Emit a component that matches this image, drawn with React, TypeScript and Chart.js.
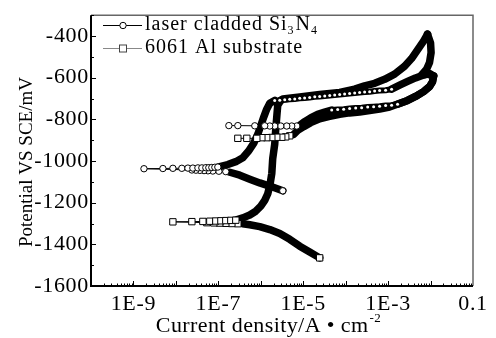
import { useEffect, useRef } from "react";
import { Chart, registerables } from "chart.js";

Chart.register(...registerables);

type Pt = [number, number]; // [current density A/cm2, potential mV]

// ---- laser cladded Si3N4 (circles) ----
const siCathodicBand: Pt[] = [[3.30e-6, -1143], [1.82e-6, -1124], [9.46e-7, -1105], [5.5e-7, -1087], [3.2e-7, -1068], [1.87e-7, -1054]];
const siNearEcorr: Pt[] = [[1.50e-7, -1051], [1.03e-7, -1049], [7.4e-8, -1048], [5.7e-8, -1047], [4.6e-8, -1046], [3.67e-8, -1045], [2.96e-8, -1044], [2.38e-8, -1043], [1.77e-9, -1037], [4.94e-9, -1036], [8.5e-9, -1035], [1.38e-8, -1035], [1.92e-8, -1034], [2.51e-8, -1034], [3.3e-8, -1033], [4.09e-8, -1033], [5.08e-8, -1032], [5.97e-8, -1032], [7.03e-8, -1031], [8.28e-8, -1030], [9.73e-8, -1029]];
const siAnodicBand: Pt[] = [[9.73e-8, -1029], [1.67e-7, -1017], [2.58e-7, -1003], [3.77e-7, -984], [5.22e-7, -951], [6.84e-7, -914], [8.49e-7, -872], [1.0e-6, -830], [1.18e-6, -788], [1.38e-6, -751], [1.63e-6, -723], [2.13e-6, -709]];
const siPittingRow: Pt[] = [[2.13e-6, -709], [2.80e-6, -708], [3.67e-6, -706], [4.81e-6, -704], [6.31e-6, -702], [8.28e-6, -699], [1.08e-5, -697], [1.42e-5, -695], [1.87e-5, -692], [2.44e-5, -690], [3.21e-5, -688], [4.21e-5, -685], [5.51e-5, -683], [7.23e-5, -681], [9.46e-5, -678], [1.24e-4, -676], [1.63e-4, -674], [2.13e-4, -671], [2.80e-4, -669], [3.67e-4, -667], [4.81e-4, -664], [6.31e-4, -662], [8.73e-4, -660], [1.21e-3, -655]];
const siLoopUpper: Pt[] = [[1.21e-3, -655], [1.87e-3, -636], [2.88e-3, -618], [4.43e-3, -601], [6.84e-3, -587], [9.46e-3, -580], [1.18e-2, -592]];
const siLoopLower: Pt[] = [[1.18e-2, -592], [1.11e-2, -620], [9.46e-3, -643], [6.84e-3, -667], [4.43e-3, -690], [2.88e-3, -709], [1.67e-3, -727]];
const siReverseRow: Pt[] = [[1.67e-3, -727], [1.21e-3, -732], [8.73e-4, -734], [6.31e-4, -737], [4.56e-4, -739], [3.30e-4, -741], [2.38e-4, -744], [1.72e-4, -746], [1.24e-4, -748], [8.97e-5, -751], [6.49e-5, -753], [4.69e-5, -755]];
const siReverseBand: Pt[] = [[4.69e-5, -755], [3.21e-5, -765], [2.19e-5, -776], [1.50e-5, -793], [1.08e-5, -811], [8.28e-6, -828]];
const siReverseEnd: Pt[] = [[7.03e-6, -832], [5.36e-6, -832], [4.09e-6, -832], [2.96e-6, -832], [2.13e-6, -832], [1.63e-6, -832], [1.24e-6, -831], [7.23e-7, -831], [2.88e-7, -830], [1.77e-7, -830]];

// ---- 6061 Al substrate (squares) ----
const alCathodicBand: Pt[] = [[2.44e-5, -1465], [1.42e-5, -1437], [8.28e-6, -1409], [4.81e-6, -1376], [2.80e-6, -1348], [1.63e-6, -1329], [9.46e-7, -1315], [5.5e-7, -1306], [3.77e-7, -1301]];
const alNearEcorr: Pt[] = [[2.88e-7, -1301], [2.08e-7, -1300], [1.50e-7, -1299], [1.08e-7, -1298], [7.83e-8, -1297], [5.36e-8, -1296], [8.5e-9, -1292], [2.38e-8, -1291], [4.32e-8, -1290], [6.31e-8, -1289], [8.73e-8, -1288], [1.15e-7, -1287], [1.50e-7, -1286], [1.97e-7, -1285], [2.58e-7, -1284]];
const alAnodicBand: Pt[] = [[2.58e-7, -1284], [3.77e-7, -1273], [5.5e-7, -1259], [7.62e-7, -1241], [1.0e-6, -1217], [1.24e-6, -1189], [1.46e-6, -1157], [1.63e-6, -1119], [1.82e-6, -1059], [1.91e-6, -989], [2.13e-6, -919], [2.25e-6, -849], [2.38e-6, -788], [2.51e-6, -732], [2.96e-6, -709]];
const alForwardBand: Pt[] = [[2.96e-6, -709], [3.30e-6, -702], [8.28e-6, -692], [2.44e-5, -681], [7.23e-5, -671], [1.63e-4, -655], [2.80e-4, -639], [4.81e-4, -627], [8.28e-4, -608], [1.42e-3, -583], [2.44e-3, -545], [3.57e-3, -508], [4.94e-3, -466], [6.84e-3, -424], [8.49e-3, -391]];
const alReverseBand: Pt[] = [[8.49e-3, -391], [1.0e-2, -433], [1.03e-2, -480], [9.46e-3, -527], [8.06e-3, -559], [6.14e-3, -587], [8.49e-3, -583], [1.18e-2, -592], [1.11e-2, -620], [9.46e-3, -643], [6.84e-3, -667], [4.43e-3, -690], [2.88e-3, -709], [1.08e-3, -741], [6.31e-4, -751], [3.67e-4, -758], [2.13e-4, -765], [1.24e-4, -769], [7.23e-5, -776], [4.21e-5, -786], [2.44e-5, -797], [1.50e-5, -816], [1.03e-5, -835], [7.43e-6, -853], [5.97e-6, -872]];
const alReverseEnd: Pt[] = [[4.81e-6, -879], [3.87e-6, -884], [3.12e-6, -886], [2.38e-6, -886], [1.82e-6, -887], [1.38e-6, -888], [1.06e-6, -888], [8.06e-7, -891], [4.69e-7, -891], [2.88e-7, -891]];

// ---- axes ----
const xMin = 1e-10;
const xMax = 0.1;
const yMin = -1600;
const yMax = -300;
const xTickValues = [1e-9, 1e-7, 1e-5, 1e-3, 0.1];
const xTickLabels = ["1E-9", "1E-7", "1E-5", "1E-3", "0.1"];
const yTickValues = [-1600, -1400, -1200, -1000, -800, -600, -400];
const yTickLabels = ["-1600", "-1400", "-1200", "-1000", "-800", "-600", "-400"];
const yTitle = "Potential VS SCE/mV";
const xTitle = "Current density/A \u2022 cm";
const xTitleSup = "-2";
const legendSi = [["laser cladded Si", false], ["3", true], ["N", false], ["4", true]] as [string, boolean][];
const legendAl = "6061 Al substrate";

const FONT = "'Liberation Serif', 'Times New Roman', serif";

const pts = (a: Pt[]) => a.map(([x, y]) => ({ x, y }));

function bandSet(data: Pt[], endMarker?: string) {
  return {
    data: pts(data),
    borderColor: "#000",
    borderWidth: 7.5,
    borderCapStyle: "round",
    borderJoinStyle: "round",
    tension: 0,
    pointStyle: endMarker || "circle",
    pointRadius: endMarker ? (c: any) => (c.dataIndex === 0 ? (endMarker === "rect" ? 4.5 : 3.2) : 0) : 0,
    pointBackgroundColor: "#fff",
    pointBorderColor: "#000",
    pointBorderWidth: 1,
    order: 3,
  };
}

function dottedSet(data: Pt[]) {
  return {
    data: pts(data),
    borderColor: "#000",
    borderWidth: 6,
    borderCapStyle: "round",
    borderJoinStyle: "round",
    tension: 0,
    pointStyle: "circle",
    pointRadius: 1.5,
    pointBackgroundColor: "#fff",
    pointBorderWidth: 0,
    order: 1,
  };
}

function markerSet(data: Pt[], style: string) {
  return {
    data: pts(data),
    borderColor: "#000",
    borderWidth: 1,
    tension: 0,
    pointStyle: style,
    pointRadius: style === "rect" ? 4.5 : 3.2,
    pointBackgroundColor: "#fff",
    pointBorderColor: "#000",
    pointBorderWidth: 1,
    order: 0,
  };
}

const spacing = {
  id: "spacing",
  beforeDraw(chart: any) {
    (chart.ctx as any).letterSpacing = "0.7px";
  },
};

const decorations = {
  id: "decorations",
  afterDraw(chart: any) {
    const { ctx, chartArea: a, scales } = chart;
    const xs = scales.x;
    const ys = scales.y;
    ctx.save();
    ctx.letterSpacing = "0px";
    // frame
    ctx.strokeStyle = "#666";
    ctx.lineWidth = 1.5;
    ctx.beginPath();
    ctx.moveTo(a.left, a.top);
    ctx.lineTo(a.right, a.top);
    ctx.lineTo(a.right, a.bottom);
    ctx.stroke();
    ctx.strokeStyle = "#000";
    ctx.lineWidth = 2;
    ctx.beginPath();
    ctx.moveTo(a.left, a.top);
    ctx.lineTo(a.left, a.bottom);
    ctx.lineTo(a.right, a.bottom);
    ctx.stroke();
    // x ticks (inward)
    ctx.lineWidth = 1;
    ctx.beginPath();
    for (let e = -10; e <= -2; e++) {
      for (let m = 1; m <= 9; m++) {
        const v = m * Math.pow(10, e);
        const px = Math.round(xs.getPixelForValue(v)) + 0.5;
        const len = m === 1 ? 5 : 2.5;
        ctx.moveTo(px, a.bottom);
        ctx.lineTo(px, a.bottom - len);
      }
    }
    ctx.stroke();
    // y ticks (inward)
    ctx.beginPath();
    for (let v = yMin; v <= yMax; v += 100) {
      const py = Math.round(ys.getPixelForValue(v)) + 0.5;
      const len = v % 200 === 0 ? 5 : 3;
      ctx.moveTo(a.left, py);
      ctx.lineTo(a.left + len, py);
    }
    ctx.stroke();

    ctx.fillStyle = "#000";
    // y title
    ctx.save();
    ctx.font = `19px ${FONT}`;
    ctx.translate(32, 162);
    ctx.rotate(-Math.PI / 2);
    ctx.textAlign = "center";
    ctx.textBaseline = "alphabetic";
    ctx.fillText(yTitle, 0, 0);
    ctx.restore();

    // x title
    ctx.letterSpacing = "0.4px";
    ctx.font = `22px ${FONT}`;
    ctx.textAlign = "left";
    ctx.textBaseline = "alphabetic";
    const w = ctx.measureText(xTitle).width;
    ctx.font = `13px ${FONT}`;
    const ws = ctx.measureText(xTitleSup).width;
    const x0 = 268 - (w + ws) / 2;
    ctx.font = `22px ${FONT}`;
    ctx.fillText(xTitle, x0, 332);
    ctx.font = `13px ${FONT}`;
    ctx.fillText(xTitleSup, x0 + w + 1, 322);

    // legend
    ctx.letterSpacing = "0px";
    ctx.strokeStyle = "#000";
    ctx.lineWidth = 1;
    ctx.beginPath();
    ctx.moveTo(103, 25.5);
    ctx.lineTo(142, 25.5);
    ctx.stroke();
    ctx.beginPath();
    ctx.arc(123, 25.5, 3.2, 0, Math.PI * 2);
    ctx.fillStyle = "#fff";
    ctx.fill();
    ctx.stroke();
    ctx.strokeStyle = "#888";
    ctx.beginPath();
    ctx.moveTo(103, 48.5);
    ctx.lineTo(142, 48.5);
    ctx.stroke();
    ctx.fillStyle = "#fff";
    ctx.strokeStyle = "#444";
    ctx.fillRect(119.5, 45, 7, 7);
    ctx.strokeRect(119.5, 45, 7, 7);

    ctx.fillStyle = "#000";
    ctx.letterSpacing = "1px";
    let tx = 145;
    for (const [t, sub] of legendSi) {
      ctx.font = sub ? `12px ${FONT}` : `20px ${FONT}`;
      ctx.fillText(t, tx, sub ? 34 : 30);
      tx += ctx.measureText(t).width + (sub ? 1 : 0);
    }
    ctx.font = `20px ${FONT}`;
    ctx.fillText(legendAl, 145, 53);
    ctx.restore();
  },
};

export default function App() {
  const ref = useRef<HTMLCanvasElement | null>(null);
  useEffect(() => {
    if (!ref.current) return;
    const chart = new Chart(ref.current, {
      type: "line",
      data: {
        datasets: [
          bandSet(siCathodicBand, "circle"),
          markerSet(siNearEcorr, "circle"),
          bandSet(siAnodicBand),
          dottedSet(siPittingRow),
          bandSet(siLoopUpper),
          bandSet(siLoopLower),
          dottedSet(siReverseRow),
          bandSet(siReverseBand),
          markerSet(siReverseEnd, "circle"),
          bandSet(alCathodicBand, "rect"),
          markerSet(alNearEcorr, "rect"),
          bandSet(alAnodicBand),
          bandSet(alForwardBand),
          bandSet(alReverseBand),
          markerSet(alReverseEnd, "rect"),
        ] as any,
      },
      options: {
        responsive: false,
        animation: false,
        devicePixelRatio: 1,
        events: [],
        layout: { padding: { left: 0, right: 23, top: 7, bottom: 0 } },
        plugins: { legend: { display: false }, tooltip: { enabled: false } },
        scales: {
          x: {
            type: "logarithmic",
            min: xMin,
            max: xMax,
            grid: { display: false, drawTicks: false },
            border: { display: false },
            afterBuildTicks: (s: any) => {
              s.ticks = xTickValues.map((v) => ({ value: v }));
            },
            afterFit: (s: any) => {
              s.height = 52;
            },
            ticks: {
              autoSkip: false,
              maxRotation: 0,
              padding: 5,
              color: "#000",
              font: { family: FONT, size: 22 },
              callback: (v: any) => xTickLabels[xTickValues.indexOf(Number(v))] ?? "",
            },
          },
          y: {
            type: "linear",
            min: yMin,
            max: yMax,
            grid: { display: false, drawTicks: false },
            border: { display: false },
            afterBuildTicks: (s: any) => {
              s.ticks = yTickValues.map((v) => ({ value: v }));
            },
            afterFit: (s: any) => {
              s.width = 91;
            },
            ticks: {
              padding: 2,
              color: "#000",
              font: { family: FONT, size: 22 },
              callback: (v: any) => yTickLabels[yTickValues.indexOf(Number(v))] ?? "",
            },
          },
        },
      } as any,
      plugins: [spacing, decorations],
    });
    return () => chart.destroy();
  }, []);
  return (
    <div style={{ position: "fixed", left: 0, top: 0, width: 496, height: 338, background: "#fff" }}>
      <canvas ref={ref} width={496} height={338} style={{ display: "block" }} />
    </div>
  );
}
